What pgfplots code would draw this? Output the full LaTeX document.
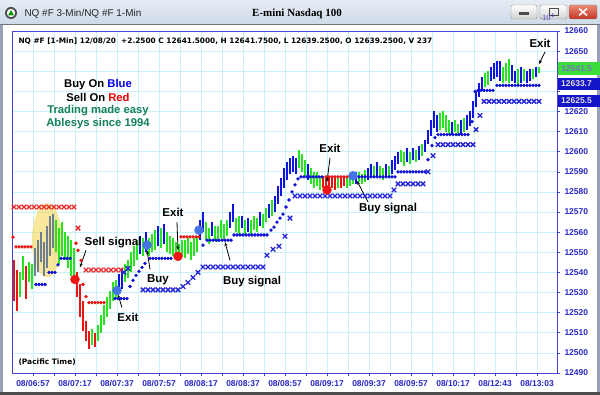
\documentclass[border=0pt]{standalone}
\usepackage{pgfplots}
\pgfplotsset{compat=1.18}
\usepackage{fontspec}
\setmainfont{Liberation Sans}
\newfontfamily\dejavu{DejaVu Sans}
\newfontfamily\serifb{Liberation Serif}
\usetikzlibrary{arrows.meta}
\definecolor{barG}{RGB}{40,228,30}
\definecolor{barR}{RGB}{235,20,20}
\definecolor{barB}{RGB}{20,20,225}
\definecolor{barY}{RGB}{112,126,146}
\definecolor{dotB}{RGB}{15,15,215}
\definecolor{dotR}{RGB}{232,20,20}
\definecolor{xB}{RGB}{35,35,215}
\definecolor{xR}{RGB}{235,40,40}
\definecolor{cirR}{RGB}{240,20,20}
\definecolor{cirB}{RGB}{70,115,230}
\definecolor{gridC}{RGB}{200,242,248}
\definecolor{frameC}{RGB}{70,70,205}
\definecolor{tickC}{RGB}{40,40,200}
\definecolor{legB}{RGB}{0,0,240}
\definecolor{legR}{RGB}{240,0,0}
\definecolor{legG}{RGB}{20,128,90}
\definecolor{yel}{RGB}{245,215,90}
\definecolor{boxG}{RGB}{60,220,60}
\definecolor{boxB}{RGB}{20,20,200}
\definecolor{winC}{RGB}{150,162,185}
\pgfplotsset{
  pbars/.style={forget plot, draw=#1, line width=1.8bp, mark=none,
    quiver={u=0, v=\thisrow{hi}-\thisrow{lo}}},
}
\begin{document}
\begin{tikzpicture}
\useasboundingbox (0,0) rectangle (600bp,395bp);
\fill[winC] (0,0) rectangle (600bp,395bp);
\shade[top color={rgb,255:red,230;green,236;blue,244}, bottom color={rgb,255:red,206;green,218;blue,232}] (0,371bp) rectangle (600bp,395bp);
\fill[white] (3bp,3bp) rectangle (597bp,371bp);
\draw[black!55, line width=0.6bp] (0,371bp) -- (600bp,371bp);
\fill[black!70] (0,0) rectangle (600bp,2.5bp);
% title icon
\fill[black!70] (11bp,382bp) circle (6bp);
\fill[white] (11bp,382bp) circle (4.2bp);
\fill[green!60!black] (8bp,379.5bp) -- (14bp,379.5bp) -- (11bp,385bp) -- cycle;
\node[anchor=west, font=\fontsize{10}{11}\selectfont, text=black!85] at (21bp,381.5bp) {NQ \#F 3-Min/NQ \#F 1-Min};
\node[font=\serifb\bfseries\fontsize{11}{12}\selectfont] at (297bp,381bp) {E-mini Nasdaq 100};
% window buttons
\shade[top color=white, bottom color=black!18, rounded corners=2bp, draw=black!45] (511bp,376bp) rectangle (537bp,390bp);
\fill[black!70] (519bp,380bp) rectangle (529bp,382.5bp);
\shade[top color=white, bottom color=black!18, rounded corners=2bp, draw=black!45] (540bp,376bp) rectangle (567bp,390bp);
\draw[black!70, line width=1bp] (549bp,379.5bp) rectangle (558bp,386.5bp);
\shade[top color={rgb,255:red,235;green,140;blue,120}, bottom color={rgb,255:red,195;green,50;blue,35}, rounded corners=2bp, draw=black!50] (569bp,376bp) rectangle (597bp,390bp);
\draw[white, line width=1.5bp] (579bp,379.5bp) -- (587bp,386.5bp) (579bp,386.5bp) -- (587bp,379.5bp);
\begin{axis}[
  at={(12bp,22bp)}, anchor=south west,
  scale only axis, width=545bp, height=342bp,
  xmin=12, xmax=557, ymin=12490, ymax=12660,
  clip=false,
  axis line style={draw=frameC, line width=0.9bp},
  xtick={33,75,117,159,201,243,285,327,369,411,453,495,537},
  xticklabels={08/06:57,08/07:17,08/07:37,08/07:57,08/08:17,08/08:37,08/08:57,08/09:17,08/09:37,08/09:57,08/10:17,08/12:43,08/13:03},
  minor xtick={54,96,138,180,222,264,306,348,390,432,474,516},
  ytick={12490,12500,...,12660},
  yticklabels={12490,12500,12510,12520,12530,12540,12550,12560,12570,12580,12590,12600,12610,12620,,,12650,12660},
  xtick pos=left, ytick pos=right, yticklabel pos=right,
  tick align=outside,
  major tick length=3bp, minor tick length=3bp,
  tick style={draw=frameC, line width=0.6bp},
  xmajorgrids, xminorgrids, ymajorgrids,
  major grid style={draw=gridC, line width=0.7bp},
  minor grid style={draw=gridC, line width=0.7bp},
  ticklabel style={font=\bfseries\fontsize{8.5}{9}\selectfont, text=tickC},
  xticklabel style={yshift=-0.5bp},
  yticklabel style={xshift=1bp},
]
% ---- red X markers
\addplot[only marks, mark=x, mark size=3.2bp, line width=1.3bp, color=xR] coordinates {
(14,12572.5)(19,12572.5)(24,12572.5)(29,12572.5)(34,12572.5)(39,12572.5)(44,12572.5)(49,12572.5)(54,12572.5)(59,12572.5)(64,12572.5)(69,12572.5)(74,12572.5)
(78,12562)
(86,12541.2)(91,12541.2)(96,12541.2)(101,12541.2)(106,12541.2)(111,12541.2)(116,12541.2)(121,12541.2)
};
% ---- blue X markers
\addplot[only marks, mark=x, mark size=3.2bp, line width=1.3bp, color=xB] coordinates {
(124,12540)(128,12542)
(143,12531.3)(148,12531.3)(153,12531.3)(158,12531.3)(163,12531.3)(168,12531.3)(173,12531.3)(178,12531.3)
(183,12533)(188,12535)(193,12537.5)(198,12540)
(203,12542.7)(208,12542.7)(213,12542.7)(218,12542.7)(223,12542.7)(228,12542.7)(233,12542.7)(238,12542.7)(243,12542.7)(248,12542.7)(253,12542.7)(258,12542.7)(263,12542.7)
(267,12548.5)(273,12551.5)(279,12553)(285,12558)(290,12567)
(295,12578)(300,12578)(305,12578)(310,12578)(315,12578)(320,12578)(325,12578)(330,12578)(335,12578)(340,12578)(345,12578)(350,12578)(355,12578)(360,12578)(365,12578)(370,12578)(375,12578)(380,12578)(385,12578)(390,12578)
(394,12581)(398,12584)(403,12584)(408,12584)(413,12584)(418,12584)(423,12584)
(428,12590)(433,12598)
(438,12603.5)(443,12603.5)(448,12603.5)(453,12603.5)(458,12603.5)(463,12603.5)(468,12603.5)(473,12603.5)
(476,12611)(480,12618)
(484,12625)(489,12625)(494,12625)(499,12625)(504,12625)(509,12625)(514,12625)(519,12625)(524,12625)(529,12625)(534,12625)(539,12625)
};
% ---- highlight (over the stop crosses, under the bars)
\fill[yel, opacity=0.6] (axis cs:47,12556) ellipse [x radius=15bp, y radius=37bp];
% ---- red stop dots
\addplot[only marks, mark=*, mark size=1.5bp, color=dotR] coordinates {
(13,12557.5)(16,12552.7)(19,12552.7)(22,12552.7)(25,12552.7)(28,12552.7)(31,12552.7)
(76,12554.5)(78,12551)(81,12546)(83,12534)(86,12528)
(89,12525)(92,12525)(95,12525)(98,12525)(101,12525)(104,12525)
(181,12557.7)(184,12557.7)(187,12557.7)(190,12557.7)(193,12557.7)(196,12557.7)(199,12557.7)
(326,12587.5)(329,12587.5)(332,12587.5)(335,12587.5)(338,12587.5)(341,12587.5)(344,12587.5)(347,12587.5)(350,12587.5)
};
% ---- blue stop dots
\addplot[only marks, mark=*, mark size=1.5bp, color=dotB] coordinates {
(36,12534)(39,12534)(42,12534)(45,12534)(49,12540)(52,12540)(55,12540)(58,12543.7)(61,12547)(64,12547)(67,12547)(70,12547)
(115,12527)(118,12527)(121,12527)(124,12527)(127,12527)(130,12533)(133,12536)(136,12538.5)(139,12540.5)(142,12542.5)(145,12544.5)
(150,12547)(153,12547)(156,12547)(159,12547)(162,12547)(165,12547)(168,12547)(171,12547)
(203,12553.6)(207,12556)(210,12556)(213,12556)(216,12556)(219,12556)(222,12556)(225,12556)(228,12556)(231,12556)
(234,12558.6)(237,12558.6)(240,12558.6)(243,12558.6)(246,12558.6)(249,12558.6)(252,12558.6)(255,12558.6)(258,12558.6)(261,12558.6)(264,12558.6)(267,12558.6)
(271,12561)(274,12562.5)(277,12565)(280,12567)(283,12569)(286,12572.5)(289,12576)(292,12580)(295,12583.5)(298,12586.5)
(301,12587.5)(304,12587.5)(307,12587.5)(310,12587.5)(313,12587.5)(316,12587.5)(319,12587.5)(322,12587.5)
(356,12587.5)(359,12587.5)(362,12587.5)(365,12587.5)(368,12587.5)(371,12587.5)(374,12587.5)(377,12587.5)(380,12587.5)(383,12587.5)(386,12587.5)(389,12587.5)(392,12587.5)(395,12587.5)
(398,12590)(401,12590)(404,12590)(407,12590)(410,12590)(413,12590)(416,12590)(419,12590)(422,12590)(425,12590)
(428,12596)(432,12603)(435,12607)
(438,12608.5)(441,12608.5)(444,12608.5)(447,12608.5)(450,12608.5)(453,12608.5)(456,12608.5)(459,12608.5)(462,12608.5)(465,12608.5)(468,12608.5)
(472,12615)(475,12630)
(478,12630.5)(481,12630.5)(484,12630.5)(487,12630.5)(490,12630.5)(493,12630.5)
(497,12633)(500,12633)(503,12633)(506,12633)(509,12633)(512,12633)(515,12633)(518,12633)(521,12633)(524,12633)(527,12633)(530,12633)(533,12633)(536,12633)(539,12633)
};
% ---- price bars (x, low, high)
\addplot[pbars=barG] table[x=x, y=lo] {
x lo hi
20 12528 12540
23 12536 12548
29 12535 12545
32 12532 12544
56 12550 12566
59 12544 12562
62 12548 12565
65 12546 12560
68 12542 12558
71 12538 12556
74 12536 12552
92 12504 12512
98 12506 12514
101 12510 12519
104 12514 12524
107 12518 12528
110 12522 12531
113 12526 12535
116 12527 12536
125 12535 12544
128 12537 12546
131 12540 12550
134 12543 12553
137 12546 12556
143 12548 12557
149 12548 12557
152 12550 12559
155 12551 12561
161 12552 12562
167 12550 12560
170 12549 12558
173 12548 12557
176 12547 12555
179 12546 12554
182 12548 12556
185 12547 12556
188 12549 12557
191 12546 12555
194 12548 12557
197 12550 12558
206 12556 12565
209 12554 12562
215 12556 12563
218 12555 12563
221 12557 12566
224 12556 12564
227 12558 12566
236 12560 12567
239 12559 12568
245 12559 12566
251 12559 12566
254 12561 12568
257 12560 12567
263 12562 12569
266 12565 12572
272 12568 12576
299 12592 12601
302 12590 12599
305 12588 12596
311 12584 12592
314 12582 12590
317 12583 12590
320 12581 12588
338 12582 12588
347 12582 12588
350 12583 12589
353 12584 12590
359 12585 12590
362 12584 12589
365 12585 12591
374 12587 12593
380 12587 12593
383 12586 12592
389 12587 12593
401 12595 12601
404 12593 12600
410 12594 12600
416 12595 12601
422 12598 12604
440 12611 12619
443 12612 12620
446 12610 12618
449 12609 12616
455 12610 12616
458 12608 12614
464 12610 12617
485 12632 12639
488 12633 12640
503 12634 12642
506 12635 12644
509 12634 12646
518 12633 12641
524 12635 12641
533 12636 12641
539 12639 12642
};
\addplot[pbars=barR] table[x=x, y=lo] {
x lo hi
14 12526 12546
17 12521 12541
26 12527 12543
77 12528 12540
80 12518 12534
83 12511 12526
86 12506 12516
89 12502 12511
95 12503 12510
323 12582 12588
326 12580 12587
329 12581 12588
332 12582 12588
335 12581 12587
341 12582 12587
344 12583 12588
};
\addplot[pbars=barY] table[x=x, y=lo] {
x lo hi
35 12538 12552
38 12540 12556
41 12545 12560
44 12538 12555
47 12542 12563
50 12548 12568
53 12552 12569
};
\addplot[pbars=barB] table[x=x, y=lo] {
x lo hi
119 12530 12539
122 12532 12542
140 12549 12558
146 12550 12560
158 12553 12563
164 12554 12564
200 12556 12566
203 12560 12570
212 12558 12565
230 12562 12570
233 12565 12574
242 12562 12568
248 12560 12567
260 12563 12570
269 12567 12574
275 12570 12578
278 12574 12583
281 12578 12587
284 12582 12592
287 12586 12595
290 12589 12597
293 12590 12598
296 12589 12597
308 12586 12594
356 12584 12590
368 12586 12592
371 12588 12594
377 12588 12595
386 12588 12594
392 12589 12596
395 12591 12598
398 12594 12600
407 12595 12602
413 12596 12602
419 12596 12603
425 12600 12606
428 12604 12611
431 12608 12616
434 12612 12620
437 12610 12618
452 12609 12615
461 12609 12616
467 12611 12618
470 12613 12620
473 12617 12625
476 12622 12630
479 12627 12634
482 12630 12637
491 12635 12642
494 12636 12644
497 12637 12645
500 12635 12645
512 12635 12643
515 12634 12640
521 12634 12642
527 12634 12640
530 12635 12641
536 12637 12642
};
% ---- signal circles
\addplot[only marks, mark=*, mark size=4.5bp, color=cirR] coordinates {(75,12536.5)(178,12548)(327,12581)};
\addplot[only marks, mark=*, mark size=4.5bp, color=cirB] coordinates {(117,12531)(147,12553.6)(199,12561)(353,12588)};
% ---- texts
\node[anchor=west, font=\dejavu\bfseries\fontsize{7.4}{8}\selectfont] at (axis cs:15,12655) {NQ \#F [1-Min] 12/08/20\ \ +2.2500 C 12641.5000, H 12641.7500, L 12639.2500, O 12639.2500, V 237};
\tikzset{leg/.style={font=\bfseries\fontsize{11.3}{12}\selectfont, inner sep=0}, ann/.style={font=\bfseries\fontsize{11.5}{12}\selectfont, inner sep=0}, arr/.style={-{Stealth[length=4bp,width=3bp]}, line width=0.8bp, black}}
\node[leg] at (axis cs:98,12633.6) {Buy On \textcolor{legB}{Blue}};
\node[leg] at (axis cs:98,12627.2) {Sell On \textcolor{legR}{Red}};
\node[leg, text=legG] at (axis cs:98,12620.2) {Trading made easy};
\node[leg, text=legG] at (axis cs:98,12614.2) {Ablesys since 1994};
\node[anchor=west, font=\dejavu\bfseries\fontsize{7.5}{8}\selectfont] at (axis cs:15,12495.5) {(Pacific Time)};
\node[ann] at (axis cs:113,12554.6) {Sell signal};
\draw[arr] (axis cs:86,12551) -- (axis cs:80,12542.5);
\node[ann] at (axis cs:128,12517.8) {Exit};
\draw[arr] (axis cs:122,12522.5) -- (axis cs:118,12529);
\node[ann] at (axis cs:158,12536.2) {Buy};
\draw[arr] (axis cs:150,12541.5) -- (axis cs:147,12551);
\node[ann] at (axis cs:173,12569.6) {Exit};
\draw[arr] (axis cs:177,12565) -- (axis cs:178,12551);
\node[ann] at (axis cs:252,12535.3) {Buy signal};
\draw[arr] (axis cs:230,12546) -- (axis cs:225,12555);
\node[ann] at (axis cs:330,12601.4) {Exit};
\draw[arr] (axis cs:330,12597) -- (axis cs:327,12585);
\node[ann] at (axis cs:388,12571.5) {Buy signal};
\draw[arr] (axis cs:368,12575) -- (axis cs:357,12585.5);
\node[ann] at (axis cs:540,12654) {Exit};
\draw[arr] (axis cs:545,12649.6) -- (axis cs:539,12643.5);
% ---- price boxes on the right scale
\node[fill=boxG, anchor=west, minimum width=43bp, minimum height=12.5bp, inner sep=0, text=black!45!blue!55!white, font=\bfseries\fontsize{8.5}{9}\selectfont, align=left, text width=43bp] at (axis cs:557.5,12641.4) {\hspace*{3.5bp}12641.5};
\node[fill=boxB, anchor=west, minimum width=43bp, minimum height=12.5bp, inner sep=0, text=black!12, font=\bfseries\fontsize{8.5}{9}\selectfont, align=left, text width=43bp] at (axis cs:557.5,12633.7) {\hspace*{3.5bp}12633.7};
\node[fill=boxB, anchor=west, minimum width=43bp, minimum height=12.5bp, inner sep=0, text=black!12, font=\bfseries\fontsize{8.5}{9}\selectfont, align=left, text width=43bp] at (axis cs:557.5,12625.2) {\hspace*{3.5bp}12625.5};
\end{axis}
\end{tikzpicture}
\end{document}
